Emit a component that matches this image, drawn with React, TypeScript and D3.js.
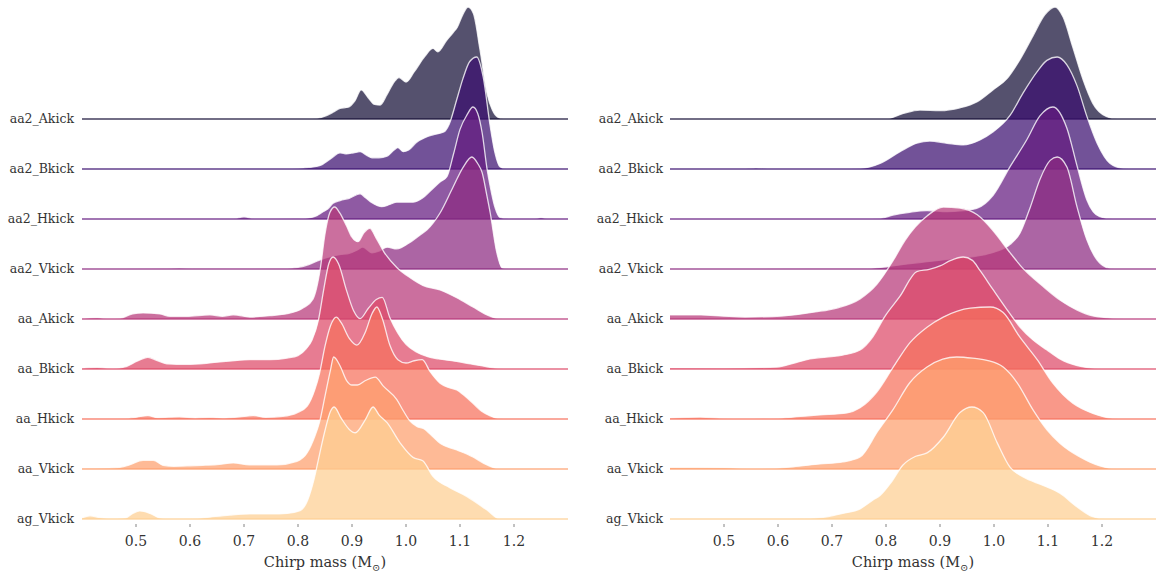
import React from "react";
import * as d3 from "d3";

const ROWS = ["aa2_Akick","aa2_Bkick","aa2_Hkick","aa2_Vkick","aa_Akick","aa_Bkick","aa_Hkick","aa_Vkick","ag_Vkick"];
const X_TICKS = [0.5,0.6,0.7,0.8,0.9,1.0,1.1,1.2];
const X_DOMAIN: [number, number] = [0.4, 1.3];
const AXIS_LABEL = "Chirp mass (M";

type P = [number, number];

// Left panel (chirp mass, density)
const L_aa2_Akick: P[] = [[0.4,0],[0.82,0],[0.835,0.05],[0.85,0.25],[0.865,0.6],[0.878,0.95],[0.893,1.05],[0.905,1.6],[0.917,2.6],[0.93,1.9],[0.942,1.3],[0.952,1.25],[0.965,2.2],[0.978,3.3],[0.987,3.7],[1.0,3.3],[1.015,4.2],[1.035,5.6],[1.05,6.3],[1.059,6.0],[1.075,7.0],[1.087,7.7],[1.095,8.2],[1.105,9.3],[1.115,10.0],[1.125,9.4],[1.137,6.2],[1.15,2.3],[1.16,0.8],[1.17,0.15],[1.18,0],[1.3,0]];
const L_aa2_Bkick: P[] = [[0.4,0],[0.78,0],[0.8,0.05],[0.82,0.15],[0.84,0.3],[0.86,0.9],[0.878,1.45],[0.89,1.35],[0.903,1.45],[0.915,1.55],[0.928,1.2],[0.937,1.0],[0.95,1.0],[0.965,1.15],[0.978,1.7],[0.985,1.9],[0.995,1.55],[1.005,1.7],[1.02,2.4],[1.035,2.8],[1.05,3.05],[1.07,3.3],[1.08,4.0],[1.094,6.2],[1.105,8.0],[1.118,9.6],[1.131,10.0],[1.143,8.2],[1.156,3.8],[1.165,1.4],[1.174,0.2],[1.185,0],[1.3,0]];
const L_aa2_Hkick: P[] = [[0.4,0],[0.68,0],[0.7,0.2],[0.72,0],[0.8,0.02],[0.82,0.1],[0.835,0.3],[0.845,0.6],[0.855,0.9],[0.865,1.4],[0.878,1.65],[0.895,1.85],[0.915,2.25],[0.925,1.9],[0.937,1.45],[0.955,1.1],[0.97,1.3],[0.983,1.5],[1.0,1.5],[1.013,1.5],[1.03,1.85],[1.045,2.5],[1.063,3.3],[1.076,3.8],[1.088,5.8],[1.1,8.0],[1.113,9.3],[1.124,10.0],[1.133,9.4],[1.141,7.7],[1.15,4.5],[1.156,2.9],[1.165,1.0],[1.174,0.15],[1.19,0],[1.235,0],[1.25,0.12],[1.265,0],[1.3,0]];
const L_aa2_Vkick: P[] = [[0.4,0],[0.55,0.02],[0.58,0.08],[0.61,0.02],[0.78,0.05],[0.8,0.15],[0.82,0.4],[0.84,0.8],[0.86,1.1],[0.88,1.3],[0.895,1.4],[0.91,1.7],[0.92,1.95],[0.937,1.45],[0.95,1.6],[0.965,1.95],[0.983,1.8],[1.005,2.3],[1.025,3.0],[1.039,3.5],[1.063,5.0],[1.087,7.3],[1.106,9.1],[1.122,10.0],[1.133,9.4],[1.141,8.6],[1.15,6.5],[1.156,5.0],[1.168,1.5],[1.178,0.1],[1.19,0],[1.3,0]];
const L_aa_Akick: P[] = [[0.4,0.03],[0.428,0.12],[0.452,0.0],[0.47,0.05],[0.494,0.47],[0.513,0.54],[0.544,0.45],[0.563,0.24],[0.594,0.24],[0.637,0.38],[0.66,0.24],[0.68,0.38],[0.711,0.18],[0.748,0.3],[0.78,0.47],[0.81,1.0],[0.828,1.8],[0.841,4.4],[0.85,7.6],[0.859,9.5],[0.868,10.0],[0.877,9.5],[0.89,8.3],[0.9,7.3],[0.911,6.9],[0.922,7.7],[0.933,8.1],[0.945,7.2],[0.959,6.0],[0.983,4.6],[1.007,3.7],[1.031,3.0],[1.063,2.6],[1.094,1.9],[1.124,1.07],[1.15,0.36],[1.169,0.05],[1.19,0],[1.3,0]];
const L_aa_Bkick: P[] = [[0.4,0.06],[0.428,0.15],[0.457,0.03],[0.483,0.24],[0.502,0.69],[0.522,1.04],[0.538,0.78],[0.557,0.47],[0.594,0.42],[0.637,0.54],[0.674,0.71],[0.711,0.83],[0.748,0.83],[0.78,0.98],[0.8,1.2],[0.815,1.8],[0.826,2.6],[0.838,4.4],[0.848,7.2],[0.857,9.4],[0.865,10.0],[0.875,9.4],[0.89,7.0],[0.903,5.2],[0.915,4.5],[0.93,5.4],[0.945,6.2],[0.956,6.4],[0.97,4.6],[0.985,3.2],[1.0,2.2],[1.02,1.5],[1.04,1.1],[1.06,0.9],[1.09,0.7],[1.12,0.45],[1.15,0.2],[1.17,0.05],[1.19,0],[1.3,0]];
const L_aa_Hkick: P[] = [[0.4,0.03],[0.45,0.03],[0.48,0.05],[0.502,0.18],[0.522,0.3],[0.54,0.12],[0.58,0.2],[0.61,0.09],[0.637,0.15],[0.66,0.08],[0.692,0.2],[0.717,0.3],[0.74,0.15],[0.772,0.24],[0.798,0.55],[0.817,1.15],[0.831,2.6],[0.84,4.1],[0.85,6.5],[0.86,8.3],[0.871,9.1],[0.88,8.6],[0.895,7.2],[0.909,6.6],[0.925,7.8],[0.937,9.4],[0.946,10.0],[0.956,9.0],[0.97,6.6],[0.985,5.3],[1.0,5.0],[1.015,5.2],[1.03,5.3],[1.045,4.2],[1.063,3.2],[1.08,2.8],[1.094,2.6],[1.11,2.0],[1.124,1.4],[1.14,0.7],[1.155,0.3],[1.17,0.05],[1.19,0],[1.3,0]];
const L_aa_Vkick: P[] = [[0.4,0.06],[0.45,0.08],[0.47,0.15],[0.489,0.38],[0.513,0.78],[0.532,0.78],[0.55,0.33],[0.57,0.24],[0.6,0.28],[0.624,0.33],[0.65,0.4],[0.68,0.54],[0.71,0.38],[0.761,0.38],[0.798,0.69],[0.817,1.45],[0.831,2.9],[0.84,4.2],[0.85,6.5],[0.86,8.8],[0.866,10.0],[0.878,9.2],[0.89,7.9],[0.9,7.5],[0.91,7.5],[0.925,7.9],[0.943,8.2],[0.958,7.4],[0.983,6.2],[0.995,5.2],[1.007,4.3],[1.02,3.8],[1.033,3.6],[1.045,3.1],[1.063,2.3],[1.094,1.7],[1.124,1.07],[1.15,0.36],[1.174,0],[1.3,0]];
const L_ag_Vkick: P[] = [[0.4,0.1],[0.415,0.28],[0.43,0.15],[0.45,0.05],[0.48,0.1],[0.494,0.5],[0.507,0.72],[0.526,0.5],[0.544,0.1],[0.563,0],[0.606,0.03],[0.637,0.18],[0.674,0.35],[0.711,0.45],[0.75,0.45],[0.78,0.5],[0.804,0.75],[0.818,1.7],[0.83,3.6],[0.84,5.8],[0.85,7.9],[0.86,9.6],[0.867,10.0],[0.88,9.0],[0.895,8.0],[0.906,7.7],[0.925,8.9],[0.939,10.0],[0.95,9.3],[0.965,8.6],[0.989,6.8],[1.013,5.5],[1.031,5.2],[1.05,3.8],[1.081,2.8],[1.113,2.0],[1.15,0.8],[1.174,0],[1.3,0]];

// Right panel (chirp mass, density)
const R_aa2_Akick: P[] = [[0.4,0],[0.8,0],[0.832,0.5],[0.863,0.8],[0.9,0.75],[0.937,1.0],[0.969,1.55],[0.998,2.6],[1.024,3.6],[1.048,5.3],[1.072,7.4],[1.094,9.3],[1.113,10.0],[1.128,9.1],[1.146,6.4],[1.165,3.5],[1.183,1.4],[1.209,0.2],[1.228,0],[1.3,0]];
const R_aa2_Bkick: P[] = [[0.4,0],[0.54,0],[0.559,0.08],[0.58,0],[0.72,0],[0.752,0.05],[0.789,0.5],[0.826,1.55],[0.857,2.3],[0.881,2.5],[0.913,2.3],[0.943,2.15],[0.974,2.6],[0.998,3.3],[1.03,4.8],[1.054,6.8],[1.08,8.7],[1.098,9.7],[1.117,10.0],[1.135,9.3],[1.154,7.4],[1.172,4.7],[1.191,2.3],[1.215,0.5],[1.24,0.05],[1.26,0],[1.3,0]];
const R_aa2_Hkick: P[] = [[0.4,0],[0.76,0],[0.789,0.05],[0.813,0.35],[0.844,0.6],[0.876,0.75],[0.913,0.65],[0.943,0.75],[0.968,0.95],[0.998,2.1],[1.03,4.7],[1.061,7.1],[1.085,9.2],[1.109,10.0],[1.135,8.1],[1.154,4.7],[1.172,1.7],[1.196,0.2],[1.22,0],[1.3,0]];
const R_aa2_Vkick: P[] = [[0.4,0],[0.76,0.02],[0.8,0.2],[0.84,0.45],[0.876,0.65],[0.92,0.9],[0.968,1.15],[1.0,1.5],[1.03,2.2],[1.048,3.2],[1.067,5.5],[1.085,8.0],[1.104,9.7],[1.117,10.0],[1.135,9.1],[1.154,5.5],[1.172,2.6],[1.191,0.8],[1.215,0.05],[1.23,0],[1.3,0]];
const R_aa_Akick: P[] = [[0.4,0.36],[0.457,0.36],[0.5,0.25],[0.539,0.18],[0.607,0.27],[0.669,0.63],[0.709,0.98],[0.752,1.8],[0.783,3.1],[0.813,5.2],[0.835,7.0],[0.854,8.2],[0.876,9.2],[0.906,10.0],[0.937,9.9],[0.969,9.3],[0.998,7.9],[1.03,5.9],[1.054,4.5],[1.091,2.9],[1.122,1.7],[1.154,0.8],[1.183,0.27],[1.215,0.09],[1.241,0],[1.3,0]];
const R_aa_Bkick: P[] = [[0.4,0.1],[0.5,0.08],[0.598,0.18],[0.628,0.5],[0.659,0.9],[0.69,1.07],[0.72,1.25],[0.752,1.7],[0.776,2.9],[0.798,4.7],[0.826,6.5],[0.857,8.7],[0.88,8.9],[0.9,9.2],[0.92,9.7],[0.943,10.0],[0.96,9.7],[0.974,8.8],[0.998,7.1],[1.024,5.3],[1.048,3.75],[1.072,2.6],[1.098,1.7],[1.122,0.9],[1.154,0.3],[1.187,0.05],[1.21,0],[1.3,0]];
const R_aa_Hkick: P[] = [[0.4,0.09],[0.456,0.18],[0.5,0.05],[0.535,0],[0.6,0.05],[0.628,0.18],[0.678,0.36],[0.728,0.54],[0.752,1.0],[0.783,2.4],[0.813,4.6],[0.844,6.8],[0.876,8.2],[0.906,9.1],[0.956,9.9],[0.993,10.0],[1.017,9.5],[1.048,7.3],[1.08,5.3],[1.109,3.2],[1.146,1.4],[1.183,0.5],[1.22,0.05],[1.24,0],[1.3,0]];
const R_aa_Vkick: P[] = [[0.4,0.15],[0.5,0.12],[0.567,0],[0.628,0.2],[0.678,0.45],[0.72,0.63],[0.752,1.07],[0.785,3.4],[0.813,5.3],[0.844,7.7],[0.876,9.1],[0.905,9.8],[0.931,10.0],[0.96,9.9],[0.987,9.7],[1.017,9.1],[1.043,7.7],[1.072,5.3],[1.098,3.5],[1.122,2.3],[1.159,1.07],[1.196,0.27],[1.228,0],[1.3,0]];
const R_ag_Vkick: P[] = [[0.4,0],[0.62,0],[0.659,0.06],[0.69,0.2],[0.72,0.5],[0.752,0.9],[0.776,1.7],[0.789,2.1],[0.81,3.3],[0.831,4.8],[0.855,5.6],[0.876,5.9],[0.906,7.3],[0.937,9.5],[0.959,10.0],[0.98,9.5],[1.006,6.8],[1.03,4.6],[1.054,3.75],[1.091,3.0],[1.122,2.3],[1.154,1.07],[1.183,0.2],[1.207,0],[1.3,0]];

const LEFT = [L_aa2_Akick, L_aa2_Bkick, L_aa2_Hkick, L_aa2_Vkick, L_aa_Akick, L_aa_Bkick, L_aa_Hkick, L_aa_Vkick, L_ag_Vkick];
const RIGHT = [R_aa2_Akick, R_aa2_Bkick, R_aa2_Hkick, R_aa2_Vkick, R_aa_Akick, R_aa_Bkick, R_aa_Hkick, R_aa_Vkick, R_ag_Vkick];

const W = 1156, H = 574;
const FONT = "'DejaVu Serif', serif";
const TEXT = "#333";

function Panel({ series, x0, x1, labelX }: { series: P[][]; x0: number; x1: number; labelX: number }) {
  const x = d3.scaleLinear().domain(X_DOMAIN).range([x0, x1]);
  const row = d3.scalePoint<string>().domain(ROWS).range([119, 519]);
  const h = d3.scaleLinear().domain([0, 10]).range([0, 112]);
  const color = (i: number) => d3.interpolateMagma((i + 1) / (ROWS.length + 1));
  const cx = (x0 + x1) / 2;
  const curve = d3.curveMonotoneX;
  return (
    <g>
      {ROWS.map((name, i) => {
        const base = row(name)!;
        const area = d3.area<P>().x(d => x(d[0])).y0(base).y1(d => base - h(d[1])).curve(curve);
        const line = d3.line<P>().x(d => x(d[0])).y(d => base - h(d[1])).curve(curve);
        const c = color(i);
        return (
          <g key={name}>
            <path d={area(series[i]) || ""} fill={c} fillOpacity={0.72} />
            <path d={line(series[i]) || ""} fill="none" stroke="#fff" strokeWidth={1.3} strokeOpacity={0.8} />
            <line x1={x0} x2={x1} y1={base} y2={base} stroke={c} strokeOpacity={0.6} strokeWidth={1.8} />
            <text x={labelX} y={base} dy="0.35em" textAnchor="end" fontFamily={FONT} fontSize={12.5} fill={TEXT}>{name}</text>
          </g>
        );
      })}
      {X_TICKS.map(t => (
        <g key={t}>
          <line x1={x(t)} x2={x(t)} y1={524} y2={527} stroke="#666" strokeWidth={0.8} />
          <text x={x(t)} y={541} dy="0.35em" textAnchor="middle" fontFamily={FONT} fontSize={14} fill={TEXT}>{t.toFixed(1)}</text>
        </g>
      ))}
      <text x={cx} y={562} dy="0.35em" textAnchor="middle" fontFamily={FONT} fontSize={14.5} fill={TEXT}>
        {AXIS_LABEL}
        <tspan fontSize={10} dy="4">⊙</tspan>
        <tspan dy="-4">)</tspan>
      </text>
    </g>
  );
}

export default function App() {
  return (
    <svg width={W} height={H} style={{ position: "absolute", left: 0, top: 0, background: "#fff" }}>
      <Panel series={LEFT} x0={82} x1={568} labelX={74} />
      <Panel series={RIGHT} x0={670} x1={1156} labelX={663} />
    </svg>
  );
}
